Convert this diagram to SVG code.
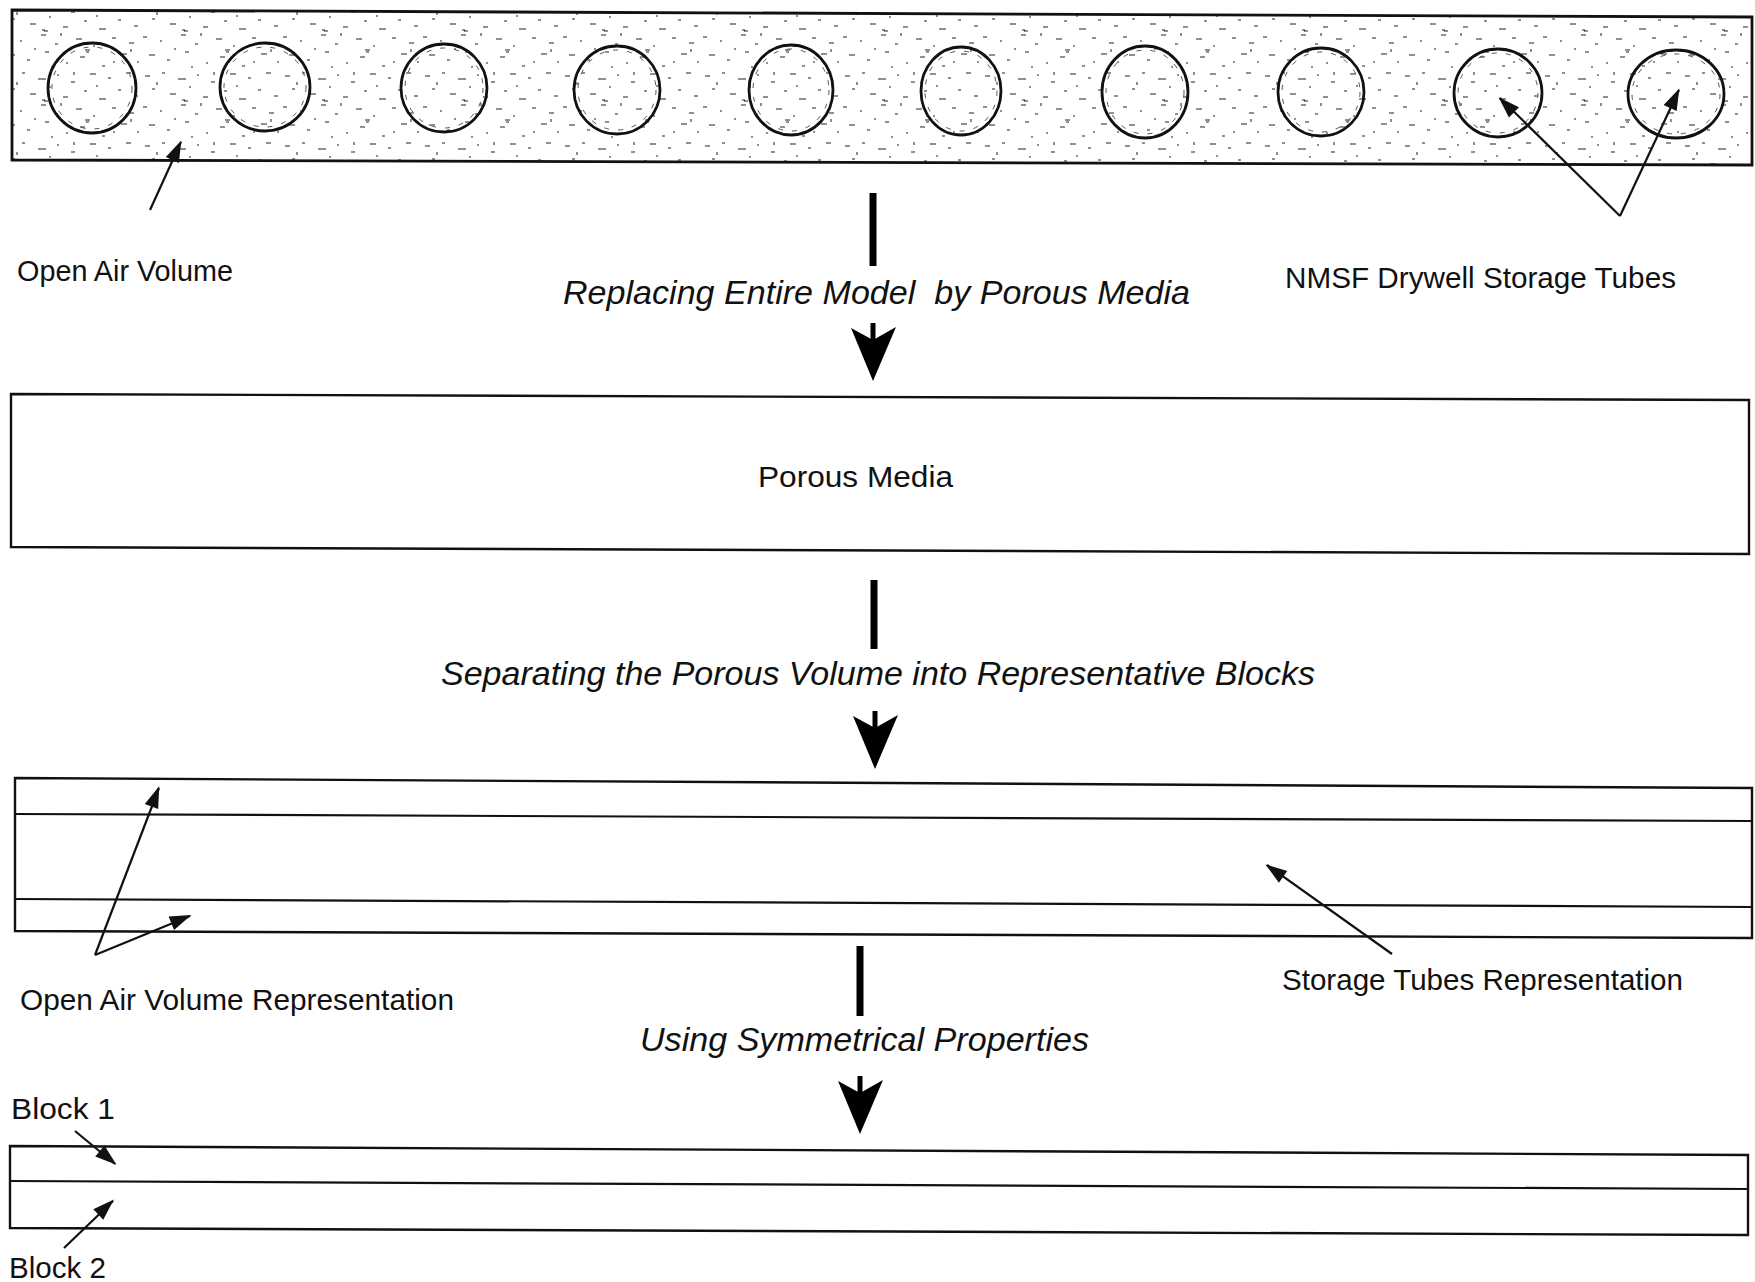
<svg xmlns="http://www.w3.org/2000/svg" width="1755" height="1282" viewBox="0 0 1755 1282">
<style>
.tube{fill:none;stroke:#111;stroke-width:2.8}
.tubein{fill:none;stroke:#555;stroke-width:1;stroke-dasharray:5 9}
.lbl{font-family:"Liberation Sans",Arial,sans-serif;font-size:30px;fill:#111}
.proc{font-family:"Liberation Sans",Arial,sans-serif;font-size:33px;font-style:italic;fill:#111;white-space:pre}
.thin{stroke:#111;stroke-width:2.2;fill:none}
.bar{stroke:#000;stroke-width:7}
</style>
<defs>
<pattern id="speckle" patternUnits="userSpaceOnUse" width="140" height="70">
<path stroke="#222" stroke-width="1.2" fill="none" d="M5,6h5 M22,3h3 M38,9h8 M57,5h2 M71,12h4 M90,4h6 M108,8h3 M126,3h5 M12,19h3 M30,24h6 M49,17h2 M63,27h5 M84,21h3 M99,29h7 M118,20h3 M134,26h4 M3,37h4 M20,41h2 M41,35h5 M55,44h3 M76,39h6 M93,46h2 M112,38h4 M129,43h5 M9,55h6 M27,60h3 M45,52h4 M66,63h2 M80,57h5 M102,66h3 M121,54h6 M137,62h2 M42,30h3 M44,31h4 M85,50h5 M86,52h3"/>
<path stroke="#333" stroke-width="1.1" fill="none" d="M17,12v3 M61,33v3 M97,15v2 M131,49v3 M35,48v2 M74,2v3 M114,61v2 M52,66v2"/>
</pattern>
<marker id="ah" viewBox="0 0 12 8" refX="11" refY="4" markerWidth="12" markerHeight="8" markerUnits="userSpaceOnUse" orient="auto" overflow="visible">
<path d="M0,0 L12,4 L0,8 Z" fill="#111" transform="scale(1.8) translate(-5,-2)"/>
</marker>
<g id="bighead">
<rect x="-2.5" y="-58" width="5" height="18" fill="#000"/>
<path d="M0,0 L-22,-53 L0,-41 L23,-54 Z" fill="#000"/>
</g>
</defs>
<rect width="1755" height="1282" fill="#fff"/>

<g id="model">
<polygon points="12,10 1752,17 1752,165 12,160" fill="url(#speckle)" stroke="#111" stroke-width="2.8"/>
<g id="tubes">
<ellipse class="tube" cx="92" cy="88" rx="44" ry="45"/><ellipse class="tubein" cx="92" cy="88" rx="40" ry="41"/>
<ellipse class="tube" cx="265" cy="87" rx="45" ry="44"/><ellipse class="tubein" cx="265" cy="87" rx="41" ry="40"/>
<ellipse class="tube" cx="444" cy="88" rx="43" ry="44"/><ellipse class="tubein" cx="444" cy="88" rx="39" ry="40"/>
<ellipse class="tube" cx="617" cy="90" rx="43" ry="44"/><ellipse class="tubein" cx="617" cy="90" rx="39" ry="40"/>
<ellipse class="tube" cx="791" cy="90" rx="42" ry="45"/><ellipse class="tubein" cx="791" cy="90" rx="38" ry="41"/>
<ellipse class="tube" cx="961" cy="91" rx="40" ry="44"/><ellipse class="tubein" cx="961" cy="91" rx="36" ry="40"/>
<ellipse class="tube" cx="1145" cy="92" rx="43" ry="46"/><ellipse class="tubein" cx="1145" cy="92" rx="39" ry="42"/>
<ellipse class="tube" cx="1321" cy="92" rx="43" ry="44"/><ellipse class="tubein" cx="1321" cy="92" rx="39" ry="40"/>
<ellipse class="tube" cx="1498" cy="93" rx="44" ry="44"/><ellipse class="tubein" cx="1498" cy="93" rx="40" ry="40"/>
<ellipse class="tube" cx="1676" cy="94" rx="48" ry="44"/><ellipse class="tubein" cx="1676" cy="94" rx="44" ry="40"/>
</g>
</g>

<g id="label-open-air">
<text class="lbl" x="17" y="281" textLength="216" lengthAdjust="spacingAndGlyphs">Open Air Volume</text>
</g>
<g id="label-nmsf">
<text class="lbl" x="1285" y="288" textLength="391" lengthAdjust="spacingAndGlyphs">NMSF Drywell Storage Tubes</text>
</g>
<g id="label-step1">
<text class="proc" x="563" y="304" textLength="627" lengthAdjust="spacingAndGlyphs" xml:space="preserve">Replacing Entire Model  by Porous Media</text>
</g>

<g id="porous">
<polygon points="11,394 1749,400 1749,554 11,547" fill="none" stroke="#111" stroke-width="2.4"/>
<text class="lbl" x="758" y="487" textLength="195" lengthAdjust="spacingAndGlyphs">Porous Media</text>
</g>

<g id="label-step2">
<text class="proc" x="441" y="685" textLength="874" lengthAdjust="spacingAndGlyphs">Separating the Porous Volume into Representative Blocks</text>
</g>

<g id="blocks">
<polygon points="15,778 1752,788 1752,938 15,931" fill="none" stroke="#111" stroke-width="2.4"/>
<line class="thin" x1="15" y1="814" x2="1752" y2="821"/>
<line class="thin" x1="15" y1="899" x2="1752" y2="907"/>
</g>

<g id="label-open-air-rep">
<text class="lbl" x="20" y="1010" textLength="434" lengthAdjust="spacingAndGlyphs">Open Air Volume Representation</text>
</g>
<g id="label-storage-rep">
<text class="lbl" x="1282" y="990" textLength="401" lengthAdjust="spacingAndGlyphs">Storage Tubes Representation</text>
</g>

<g id="label-step3">
<text class="proc" x="640" y="1051" textLength="449" lengthAdjust="spacingAndGlyphs">Using Symmetrical Properties</text>
</g>

<g id="symmetric">
<polygon points="10,1146 1748,1155 1748,1235 10,1228" fill="none" stroke="#111" stroke-width="2.4"/>
<line class="thin" x1="10" y1="1181" x2="1748" y2="1189"/>
</g>

<g id="label-block1">
<text class="lbl" x="11" y="1119" font-size="33" textLength="104" lengthAdjust="spacingAndGlyphs">Block 1</text>
</g>
<g id="label-block2">
<text class="lbl" x="9" y="1278" font-size="33" textLength="97" lengthAdjust="spacingAndGlyphs">Block 2</text>
</g>

<g id="connectors">
<line class="thin" x1="150" y1="210" x2="181" y2="142" marker-end="url(#ah)"/>
<line class="thin" x1="1620" y1="216" x2="1500" y2="98" marker-end="url(#ah)"/>
<line class="thin" x1="1620" y1="216" x2="1679" y2="90" marker-end="url(#ah)"/>

<line class="bar" x1="873" y1="193" x2="873" y2="266"/>
<use href="#bighead" transform="translate(873,381)"/>

<line class="bar" x1="874" y1="580" x2="874" y2="649"/>
<use href="#bighead" transform="translate(875,769)"/>

<line class="thin" x1="95" y1="955" x2="159" y2="788" marker-end="url(#ah)"/>
<line class="thin" x1="95" y1="955" x2="190" y2="916" marker-end="url(#ah)"/>
<line class="thin" x1="1392" y1="954" x2="1267" y2="865" marker-end="url(#ah)"/>

<line class="bar" x1="860" y1="946" x2="860" y2="1016"/>
<use href="#bighead" transform="translate(860,1134)"/>

<line class="thin" x1="75" y1="1131" x2="115" y2="1164" marker-end="url(#ah)"/>
<line class="thin" x1="64" y1="1248" x2="113" y2="1201" marker-end="url(#ah)"/>
</g>
</svg>
